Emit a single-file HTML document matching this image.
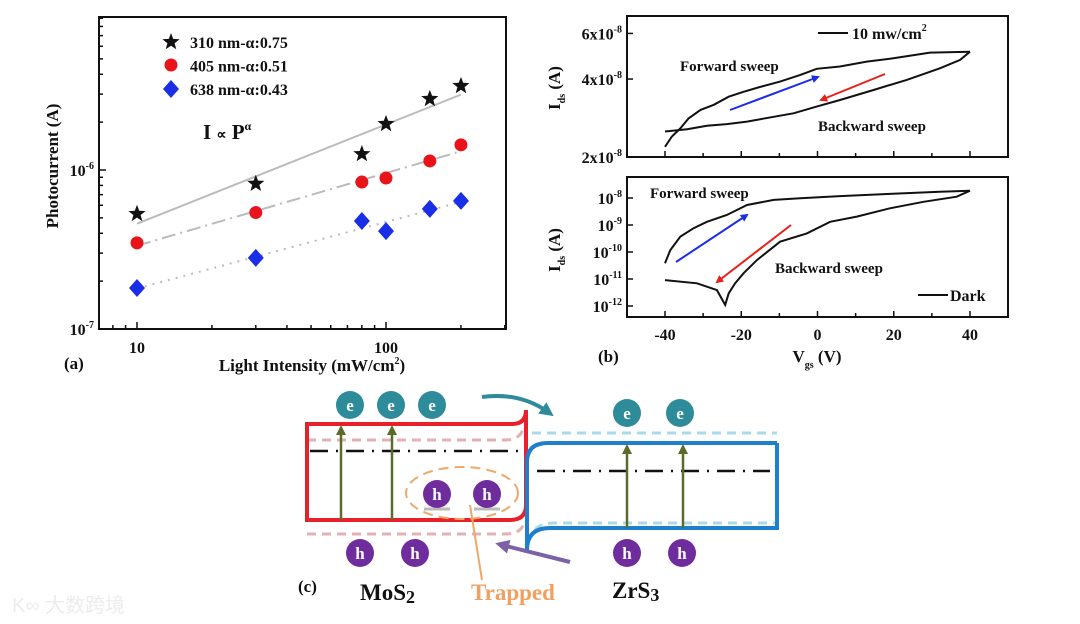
<!DOCTYPE html>
<html><head><meta charset="utf-8"><style>
html,body{margin:0;padding:0;background:#fff;}
svg{display:block;font-family:"Liberation Serif",serif;font-weight:bold;}
</style></head><body>
<svg id="fig" width="1080" height="624" viewBox="0 0 1080 624" xmlns="http://www.w3.org/2000/svg">
<defs>
<marker id="mb" markerWidth="8" markerHeight="8" refX="6" refY="4" orient="auto" markerUnits="userSpaceOnUse"><path d="M0,0 L8,4 L0,8 Z" fill="#1a2ee8"/></marker>
<marker id="mr" markerWidth="8" markerHeight="8" refX="6" refY="4" orient="auto" markerUnits="userSpaceOnUse"><path d="M0,0 L8,4 L0,8 Z" fill="#e8201a"/></marker>
<marker id="mg" markerWidth="10" markerHeight="10" refX="5" refY="5" orient="auto" markerUnits="userSpaceOnUse"><path d="M0,0 L10,5 L0,10 Z" fill="#5a6b2a"/></marker>
<marker id="mt" markerWidth="14" markerHeight="14" refX="7" refY="7" orient="auto" markerUnits="userSpaceOnUse"><path d="M0,0 L14,7 L0,14 Z" fill="#2e8b9a"/></marker>
<marker id="mp" markerWidth="14" markerHeight="14" refX="7" refY="7" orient="auto" markerUnits="userSpaceOnUse"><path d="M0,0 L14,7 L0,14 Z" fill="#7b62a8"/></marker>
</defs>
<g id="pa"></g>
<g id="pb"></g>
<g id="pc">
  <path d="M307,440 L505,440 Q522,440 524,425" fill="none" stroke="#e3b0b5" stroke-width="3" stroke-dasharray="9,6"/>
  <path d="M307,534 L505,534 Q522,534 524,522" fill="none" stroke="#e3b0b5" stroke-width="3" stroke-dasharray="9,6"/>
  <path d="M532,433 L777,433" fill="none" stroke="#a8dbe8" stroke-width="3" stroke-dasharray="9,6"/>
  <path d="M535,530 Q540,523 555,523 L777,523" fill="none" stroke="#a8dbe8" stroke-width="3" stroke-dasharray="9,6"/>
  <path d="M307,424 L512,424 Q526,424 526,410 L526,505 Q526,520 510,520 L307,520 Z" fill="none" stroke="#e8202a" stroke-width="4"/>
  <path d="M777,443 L548,443 Q527,443 527,462 L527,552" fill="none" stroke="#1f7fcf" stroke-width="4"/>
  <path d="M527,550 Q527,528 550,528 L777,528 L777,443" fill="none" stroke="#1f7fcf" stroke-width="4"/>
  <line x1="310" y1="451" x2="520" y2="451" stroke="#111" stroke-width="2.5" stroke-dasharray="18,8,2,8"/>
  <line x1="537" y1="471" x2="770" y2="471" stroke="#111" stroke-width="2.5" stroke-dasharray="18,8,2,8"/>
  <g stroke="#5a6b2a" stroke-width="2.5">
    <line x1="341" y1="520" x2="341" y2="430" marker-end="url(#mg)"/>
    <line x1="392" y1="520" x2="392" y2="430" marker-end="url(#mg)"/>
    <line x1="627" y1="528" x2="627" y2="449" marker-end="url(#mg)"/>
    <line x1="683" y1="528" x2="683" y2="449" marker-end="url(#mg)"/>
  </g>
  <ellipse cx="462" cy="493" rx="56" ry="26" fill="none" stroke="#f0a868" stroke-width="2" stroke-dasharray="10,6"/>
  <line x1="424" y1="509" x2="450" y2="509" stroke="#bbb" stroke-width="3"/>
  <line x1="474" y1="509" x2="500" y2="509" stroke="#bbb" stroke-width="3"/>
  <path d="M482,397 Q520,392 548,412" fill="none" stroke="#2e8b9a" stroke-width="4" marker-end="url(#mt)"/>
  <path d="M570,562 Q530,552 502,545" fill="none" stroke="#7b62a8" stroke-width="4" marker-end="url(#mp)"/>
  <line x1="482" y1="580" x2="470" y2="505" stroke="#f0a868" stroke-width="2"/>
  <g id="carriers"></g>
  <text x="298" y="592" font-size="17" fill="#111">(c)</text>
  <text x="360" y="600" font-size="23" fill="#111">MoS<tspan font-size="18" dy="3">2</tspan></text>
  <text x="471" y="600" font-size="23" fill="#f0a060">Trapped</text>
  <text x="612" y="598" font-size="23" fill="#111">ZrS<tspan font-size="18" dy="3">3</tspan></text>
</g>
<text x="12" y="612" font-size="20" fill="#ececec" font-family="'Liberation Sans','Noto Sans CJK SC',sans-serif" font-weight="normal">K∞ 大数跨境</text>
</svg>
<script>
// ---------- Panel (a) data ----------
const aIntensity = [10, 30, 80, 100, 150, 200];
const a310 = [5.3e-7, 8.2e-7, 1.26e-6, 1.95e-6, 2.8e-6, 3.38e-6];
const a405 = [3.48e-7, 5.4e-7, 8.4e-7, 8.9e-7, 1.14e-6, 1.44e-6];
const a638 = [1.81e-7, 2.8e-7, 4.78e-7, 4.13e-7, 5.7e-7, 6.4e-7];
const aXTicks = [10, 100];
const aYTicks = [-7, -6];
const aLegend = ["310 nm-α:0.75", "405 nm-α:0.51", "638 nm-α:0.43"];
// ---------- Panel (b) data ----------
const bTopFwdV = [-40,-38.2,-36,-33.8,-30.7,-27.2,-23.3,-19.4,-15,-9.8,-4.5,-0.2,5.9,12.9,19.9,29.5,40];
const bTopFwdI = [2.19e-8,2.40e-8,2.58e-8,2.82e-8,3.04e-8,3.18e-8,3.42e-8,3.57e-8,3.73e-8,3.91e-8,4.15e-8,4.38e-8,4.47e-8,4.67e-8,4.81e-8,5.06e-8,5.10e-8];
const bTopBwdV = [40,37.4,32.1,23.4,14.7,5.9,-0.2,-6.3,-11.5,-18.5,-23.8,-29,-34.2,-40];
const bTopBwdI = [5.10e-8,4.74e-8,4.40e-8,3.97e-8,3.63e-8,3.32e-8,3.13e-8,2.95e-8,2.86e-8,2.74e-8,2.68e-8,2.64e-8,2.56e-8,2.51e-8];
const bBotFwdV = [-40,-38.6,-36,-32.5,-29,-23.8,-18.5,-11.5,-4.5,5.9,19,32.1,40];
const bBotFwdLogI = [-10.42,-9.93,-9.43,-9.12,-8.88,-8.63,-8.26,-8.07,-8.01,-7.93,-7.85,-7.77,-7.73];
const bBotBwdV = [40,36.5,27.8,19,10.3,3.3,-2.8,-9.8,-15.9,-19.4,-21.6,-23.3,-24.2,-26.4,-31.6,-40];
const bBotBwdLogI = [-7.73,-7.95,-8.14,-8.38,-8.69,-8.88,-9.31,-9.62,-10.3,-10.79,-11.16,-11.53,-11.96,-11.41,-11.16,-11.04];
const bXTicks = [-40,-20,0,20,40];
const bTopYTicks = [2e-8,4e-8,6e-8];
const bTopYLabels = ["2x10","4x10","6x10"];
const bBotYTicks = [-12,-11,-10,-9,-8];

const NS = "http://www.w3.org/2000/svg";
function mk(parent, tag, attrs, text){
  const e = document.createElementNS(NS, tag);
  for (const k in attrs) e.setAttribute(k, attrs[k]);
  if (text !== undefined) e.textContent = text;
  parent.appendChild(e);
  return e;
}

// ---------- Panel (a) ----------
(function(){
  const g = document.getElementById('pa');
  const L=99, R=506, T=17, B=329;
  const xs = v => 137 + (Math.log10(v)-1)*249;
  const ys = v => 170 - (Math.log10(v)+6)*159;
  let e = mk(g,'rect',{x:L,y:T,width:R-L,height:B-T,fill:'none',stroke:'#111','stroke-width':2});
   
  for (let d=1; d<=3; d++) for (let m=1;m<10;m++){
    const val = m*Math.pow(10,d-1);
    if (val<7.03||val>303) continue;
    const x=xs(val); const len=(m===1)?7:4;
    e=mk(g,'line',{x1:x,y1:B,x2:x,y2:B-len,stroke:'#111','stroke-width':1.5});
     
  }
  for (let d=-8; d<=-5; d++) for (let m=1;m<10;m++){
    const val=m*Math.pow(10,d); const y=ys(val);
    if (y<T||y>B) continue;
    const len=(m===1)?7:4;
    e=mk(g,'line',{x1:L,y1:y,x2:L+len,y2:y,stroke:'#111','stroke-width':1.5});
     
  }
  aXTicks.forEach(v=>{
    e=mk(g,'text',{x:xs(v),y:353,'font-size':16,'text-anchor':'middle',fill:'#111'},String(v));
     
  });
  aYTicks.forEach(p=>{
    e=mk(g,'text',{x:94,y:ys(Math.pow(10,p))+6,'font-size':16,'text-anchor':'end',fill:'#111'});
    e.innerHTML='10<tspan font-size="10" dy="-7">'+p+'</tspan>';
     
  });
  e=mk(g,'text',{x:312,y:371,'font-size':17,'text-anchor':'middle',fill:'#111'});
  e.innerHTML='Light Intensity (mW/cm<tspan font-size="10" dy="-7">2</tspan><tspan dy="7">)</tspan>';
   
  e=mk(g,'text',{x:0,y:0,'font-size':17,'text-anchor':'middle',fill:'#111',transform:'translate(58,166) rotate(-90)'},'Photocurrent (A)');
   
  e=mk(g,'text',{x:64,y:369,'font-size':17,fill:'#111'},'(a)');
   
  e=mk(g,'text',{x:203,y:139,'font-size':21,fill:'#111'});
  e.innerHTML='I <tspan font-size="14">∝</tspan> P<tspan font-size="12" dy="-9">α</tspan>';
   
  const series=[[a310,'none','fit-310'],[a405,'14,5,2,5','fit-405'],[a638,'2,6','fit-638']];
  series.forEach(s=>{
    const X=aIntensity.map(v=>Math.log10(v)), Y=s[0].map(v=>Math.log10(v));
    const n=X.length, mx=X.reduce((a,b)=>a+b)/n, my=Y.reduce((a,b)=>a+b)/n;
    let sxy=0,sxx=0; for(let i=0;i<n;i++){sxy+=(X[i]-mx)*(Y[i]-my);sxx+=(X[i]-mx)**2;}
    const k=sxy/sxx, b=my-k*mx;
    const x0=aIntensity[0], x1=aIntensity[n-1];
    const l=mk(g,'line',{x1:xs(x0),y1:ys(Math.pow(10,k*Math.log10(x0)+b)),x2:xs(x1),y2:ys(Math.pow(10,k*Math.log10(x1)+b)),stroke:'#bbb','stroke-width':2,'stroke-dasharray':s[1]});
     
  });
  function star(cx,cy,r){let p='';for(let i=0;i<10;i++){const a=-Math.PI/2+i*Math.PI/5;const rr=i%2?r*0.42:r;p+=(i?'L':'M')+(cx+rr*Math.cos(a)).toFixed(1)+','+(cy+rr*Math.sin(a)).toFixed(1);}return p+'Z';}
  aIntensity.forEach((v,i)=>{
    let m=mk(g,'path',{d:star(xs(v),ys(a310[i]),9),fill:'#111'});
     
    m=mk(g,'circle',{cx:xs(v),cy:ys(a405[i]),r:6.5,fill:'#e8141a'});
     
    const cx=xs(v), cy=ys(a638[i]);
    m=mk(g,'path',{d:`M${cx},${cy-9}L${cx+8},${cy}L${cx},${cy+9}L${cx-8},${cy}Z`,fill:'#1a2ee8'});
     
  });
  let m=mk(g,'path',{d:star(171,42,9),fill:'#111'});  
  m=mk(g,'circle',{cx:171,cy:65,r:6.5,fill:'#e8141a'});  
  m=mk(g,'path',{d:'M171,80L179,89L171,98L163,89Z',fill:'#1a2ee8'});  
  aLegend.forEach((t,i)=>{
    const el=mk(g,'text',{x:190,y:48+i*23.5,'font-size':16,fill:'#111'},t);
     
  });
})();

// ---------- Panel (b) ----------
(function(){
  const g=document.getElementById('pb');
  const L=627,R=1008;
  const xs=v=>817.5+v*(305/80);
  const yt=v=>157-(Math.log10(v)-Math.log10(2e-8))*259;
  const yb=p=>198-(p+8)*27;
  let e;
  [[16,157,'plot-frame-b-top'],[177,317,'plot-frame-b-bottom']].forEach(f=>{
    e=mk(g,'rect',{x:L,y:f[0],width:R-L,height:f[1]-f[0],fill:'none',stroke:'#111','stroke-width':2});
     
  });
  for(let v=-40;v<=40;v+=10){
    [[157,v%20===0?6:4],[317,v%20===0?6:4]].forEach(q=>{
      e=mk(g,'line',{x1:xs(v),y1:q[0],x2:xs(v),y2:q[0]-q[1],stroke:'#111','stroke-width':1.5});
       
    });
  }
  bXTicks.forEach(v=>{
    e=mk(g,'text',{x:xs(v),y:340,'font-size':16,'text-anchor':'middle',fill:'#111'},String(v));
     
  });
  bTopYTicks.forEach((v,i)=>{
    e=mk(g,'line',{x1:L,y1:yt(v),x2:L+6,y2:yt(v),stroke:'#111','stroke-width':1.5});
     
    e=mk(g,'text',{x:622,y:yt(v)+6,'font-size':16,'text-anchor':'end',fill:'#111'});
    e.innerHTML=bTopYLabels[i]+'<tspan font-size="10" dy="-7">-8</tspan>';
     
  });
  bBotYTicks.forEach(p=>{
    e=mk(g,'line',{x1:L,y1:yb(p),x2:L+6,y2:yb(p),stroke:'#111','stroke-width':1.5});
     
    e=mk(g,'text',{x:622,y:yb(p)+6,'font-size':16,'text-anchor':'end',fill:'#111'});
    e.innerHTML='10<tspan font-size="10" dy="-7">'+p+'</tspan>';
     
  });
  function line(V,Y,name){
    const d=V.map((v,i)=>(i?'L':'M')+xs(v).toFixed(1)+','+Y[i].toFixed(1)).join('');
    const p=mk(g,'path',{d:d,fill:'none',stroke:'#111','stroke-width':2});
     
  }
  line(bTopFwdV,bTopFwdI.map(yt),'curve-light-forward');
  line(bTopBwdV,bTopBwdI.map(yt),'curve-light-backward');
  line(bBotFwdV,bBotFwdLogI.map(yb),'curve-dark-forward');
  line(bBotBwdV,bBotBwdLogI.map(yb),'curve-dark-backward');
  const arrows=[[730,110,818,77,'mb','#1a2ee8','arrow-forward-top'],[885,74,821,100,'mr','#e8201a','arrow-backward-top'],
                [676,262,747,215,'mb','#1a2ee8','arrow-forward-bottom'],[791,225,717,282,'mr','#e8201a','arrow-backward-bottom']];
  arrows.forEach(a=>{
    e=mk(g,'line',{x1:a[0],y1:a[1],x2:a[2],y2:a[3],stroke:a[5],'stroke-width':2,'marker-end':'url(#'+a[4]+')'});
     
  });
  const texts=[[680,71,'Forward sweep','label-forward-top'],[818,131,'Backward sweep','label-backward-top'],
               [650,198,'Forward sweep','label-forward-bottom'],[775,273,'Backward sweep','label-backward-bottom']];
  texts.forEach(t=>{
    e=mk(g,'text',{x:t[0],y:t[1],'font-size':15,fill:'#111'},t[2]);
     
  });
  e=mk(g,'line',{x1:818,y1:33,x2:848,y2:33,stroke:'#111','stroke-width':2});  
  e=mk(g,'text',{x:852,y:39,'font-size':16,fill:'#111'}); e.innerHTML='10 mw/cm<tspan font-size="10" dy="-8">2</tspan>';
   
  e=mk(g,'line',{x1:918,y1:295,x2:948,y2:295,stroke:'#111','stroke-width':2});  
  e=mk(g,'text',{x:950,y:301,'font-size':16,fill:'#111'},'Dark');  
  [[88,'y-axis-title-b-top'],[250,'y-axis-title-b-bottom']].forEach(q=>{
    e=mk(g,'text',{x:0,y:0,'font-size':17,'text-anchor':'middle',fill:'#111',transform:`translate(560,${q[0]}) rotate(-90)`});
    e.innerHTML='I<tspan font-size="10" dy="5">ds</tspan><tspan dy="-5"> (A)</tspan>';
     
  });
  e=mk(g,'text',{x:817,y:362,'font-size':17,'text-anchor':'middle',fill:'#111'});
  e.innerHTML='V<tspan font-size="10" dy="6">gs</tspan><tspan dy="-6"> (V)</tspan>';
   
  e=mk(g,'text',{x:598,y:362,'font-size':17,fill:'#111'},'(b)');  
})();

// ---------- Panel (c) carriers ----------
(function(){
  const g=document.getElementById('carriers');
  const carriers=[[350,405,'e'],[391,405,'e'],[432,405,'e'],[627,413,'e'],[680,413,'e'],
                  [360,553,'h'],[415,553,'h'],[627,553,'h'],[682,553,'h'],[437,494,'h'],[487,494,'h']];
  carriers.forEach(c=>{
    const col=c[2]==='e'?'#2e8b9a':'#6f2c9c';
    let e=mk(g,'circle',{cx:c[0],cy:c[1],r:14,fill:col});
     
    e=mk(g,'text',{x:c[0],y:c[1]+6,'font-size':17,'text-anchor':'middle',fill:'#fff'},c[2]);
     
  });
})();
</script>
</body></html>
